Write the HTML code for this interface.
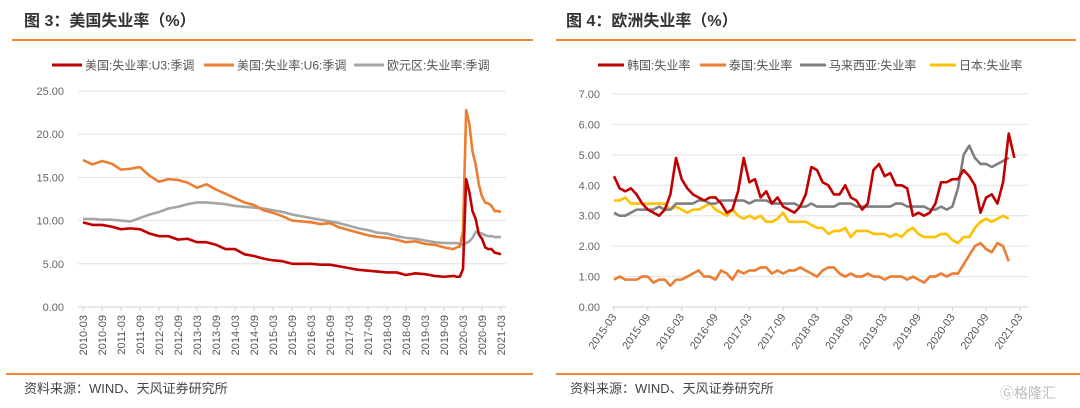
<!DOCTYPE html>
<html><head><meta charset="utf-8">
<style>
body{margin:0;width:1080px;height:408px;background:#fff;overflow:hidden;font-family:"Liberation Sans","Noto Sans CJK SC",sans-serif;}
svg{position:absolute;left:0;top:0}
</style></head>
<body>
<svg id="c" width="1080" height="408">
<text x="24" y="26" font-size="16" font-weight="bold" fill="#333">图 3：美国失业率（%）</text>
<text x="566" y="26" font-size="16" font-weight="bold" fill="#333">图 4：欧洲失业率（%）</text>
<rect x="12" y="39" width="521" height="2" fill="#F0883A"/>
<rect x="556" y="39" width="520" height="2" fill="#F0883A"/>
<rect x="6" y="373" width="527" height="2" fill="#F0883A"/>
<rect x="556" y="373" width="524" height="2" fill="#F0883A"/>
<text x="24" y="393" font-size="13" fill="#444">资料来源：WIND、天风证券研究所</text>
<text x="570" y="393" font-size="13" fill="#444">资料来源：WIND、天风证券研究所</text>
<text x="1000" y="398" font-size="14" fill="#bbb">Ⓖ格隆汇</text>
</svg>
<script>
// Left chart data (month index from 2010-03)
const leftMonths=[0,3,6,9,12,15,18,21,24,27,30,33,36,39,42,45,48,51,54,57,60,63,66,69,72,75,78,81,84,87,90,93,96,99,102,105,108,111,114,117,118,119,120,121,122,123,124,125,126,127,128,129,130,131,132];
const u3=[9.8,9.5,9.5,9.3,9.0,9.1,9.0,8.5,8.2,8.2,7.8,7.9,7.5,7.5,7.2,6.7,6.7,6.1,5.9,5.6,5.4,5.3,5.0,5.0,5.0,4.9,4.9,4.7,4.5,4.3,4.2,4.1,4.0,4.0,3.7,3.9,3.8,3.6,3.5,3.6,3.5,3.5,4.4,14.8,13.3,11.1,10.2,8.4,7.9,6.9,6.7,6.7,6.3,6.2,6.1];
const u6=[17.0,16.5,16.9,16.6,15.9,16.0,16.2,15.2,14.5,14.8,14.7,14.4,13.8,14.2,13.6,13.1,12.6,12.1,11.8,11.2,10.9,10.5,10.0,9.9,9.8,9.6,9.7,9.2,8.9,8.6,8.3,8.1,8.0,7.8,7.5,7.6,7.3,7.2,6.9,6.7,6.9,7.0,8.7,22.8,21.2,18.0,16.5,14.2,12.8,12.1,12.0,11.7,11.1,11.1,11.0];
const euro=[10.2,10.2,10.1,10.1,10.0,9.9,10.3,10.7,11.0,11.4,11.6,11.9,12.1,12.1,12.0,11.9,11.7,11.6,11.5,11.4,11.2,11.0,10.7,10.5,10.3,10.1,9.9,9.7,9.4,9.1,8.9,8.6,8.5,8.2,8.0,7.9,7.7,7.5,7.4,7.4,7.4,7.3,7.2,7.4,7.6,8.0,8.7,8.6,8.5,8.3,8.2,8.2,8.1,8.1,8.1];
const leftTicks=["0.00","5.00","10.00","15.00","20.00","25.00"];
const leftXLabels=["2010-03","2010-09","2011-03","2011-09","2012-03","2012-09","2013-03","2013-09","2014-03","2014-09","2015-03","2015-09","2016-03","2016-09","2017-03","2017-09","2018-03","2018-09","2019-03","2019-09","2020-03","2020-09","2021-03"];
// Right chart data (monthly from 2015-03)
const korea=[4.3,3.9,3.8,3.9,3.7,3.4,3.2,3.1,3.0,3.2, 3.7,4.9,4.2,3.9,3.7,3.6,3.5,3.6,3.6,3.4,3.1,3.2, 3.8,4.9,4.1,4.2,3.6,3.8,3.4,3.6,3.3,3.2,3.1,3.3, 3.7,4.6,4.5,4.1,4.0,3.7,3.7,4.0,3.6,3.5,3.2,3.4, 4.5,4.7,4.3,4.4,4.0,4.0,3.9,3.0,3.1,3.0,3.1,3.4, 4.1,4.1,4.2,4.2,4.5,4.3,4.0,3.1,3.6,3.7,3.4,4.1, 5.7,4.9];
const thailand=[0.9,1.0,0.9,0.9,0.9,1.0,1.0,0.8,0.9,0.9, 0.7,0.9,0.9,1.0,1.1,1.2,1.0,1.0,0.9,1.2,1.1,0.9, 1.2,1.1,1.2,1.2,1.3,1.3,1.1,1.2,1.1,1.2,1.2,1.3, 1.2,1.1,1.0,1.2,1.3,1.3,1.1,1.0,1.1,1.0,1.0,1.1, 1.0,1.0,0.9,1.0,1.0,1.0,0.9,1.0,0.9,0.8,1.0,1.0, 1.1,1.0,1.1,1.1,1.4,1.7,2.0,2.1,1.9,1.8,2.1,2.0, 1.5];
const malaysia=[3.1,3.0,3.0,3.1,3.2,3.2,3.2,3.2,3.3,3.2, 3.2,3.4,3.4,3.4,3.4,3.5,3.5,3.4,3.4,3.5,3.5,3.5, 3.5,3.5,3.4,3.5,3.5,3.5,3.4,3.4,3.4,3.4,3.4,3.3, 3.3,3.4,3.3,3.3,3.3,3.3,3.4,3.4,3.4,3.3,3.3,3.3, 3.3,3.3,3.3,3.3,3.4,3.4,3.3,3.3,3.3,3.3,3.2,3.2, 3.3,3.2,3.3,3.9,5.0,5.3,4.9,4.7,4.7,4.6,4.7,4.8, 4.9];
const japan=[3.5,3.5,3.6,3.4,3.4,3.4,3.4,3.4,3.4,3.4, 3.2,3.3,3.2,3.1,3.2,3.2,3.3,3.4,3.2,3.1,3.0,3.2, 3.0,2.9,3.0,2.9,3.0,2.8,2.8,2.9,3.1,2.8,2.8,2.8, 2.8,2.7,2.6,2.6,2.4,2.5,2.5,2.6,2.3,2.5,2.5,2.5, 2.4,2.4,2.4,2.3,2.4,2.3,2.5,2.6,2.4,2.3,2.3,2.3, 2.4,2.4,2.2,2.1,2.3,2.3,2.6,2.8,2.9,2.8,2.9,3.0, 2.9];
const rightTicks=["0.00","1.00","2.00","3.00","4.00","5.00","6.00","7.00"];
const rightXLabels=["2015-03","2015-09","2016-03","2016-09","2017-03","2017-09","2018-03","2018-09","2019-03","2019-09","2020-03","2020-09","2021-03"];

const NS="http://www.w3.org/2000/svg";
const svg=document.getElementById('c');
function mk(tag,attrs,parent){const e=document.createElementNS(NS,tag);for(const k in attrs)e.setAttribute(k,attrs[k]);(parent||svg).appendChild(e);return e;}

// Left axes
const L={x0:78,x1:506,y0:307,y1:91,max:25,months:132};
const lx=m=>L.x0+5+m*(L.x1-L.x0-10)/L.months;
const ly=v=>L.y0-v*(L.y0-L.y1)/L.max;
leftTicks.forEach((t,i)=>{
  const v=parseFloat(t);
  const g=mk('line',{x1:L.x0,x2:L.x1,y1:ly(v),y2:ly(v),stroke:i==0?'#d0d0d0':'#e3e3e3','stroke-width':1});
  
  
  const tx=mk('text',{x:L.x0-14,y:ly(v)+4,'font-size':11,fill:'#666','text-anchor':'end'});
  tx.textContent=t;
  
  
});
leftXLabels.forEach((t,i)=>{
  const x=lx(i*6);
  const tk=mk('line',{x1:x,x2:x,y1:L.y0,y2:L.y0+4,stroke:'#d0d0d0'});
  
  
  const tx=mk('text',{x:0,y:0,'font-size':11,fill:'#555','text-anchor':'end',transform:`translate(${x+4},${L.y0+8}) rotate(-90)`});
  tx.textContent=t;
  
  
});
function lineL(vals,color,name){
  const p=mk('polyline',{points:vals.map((v,i)=>lx(leftMonths[i])+','+ly(v)).join(' '),fill:'none',stroke:color,'stroke-width':2.6,'stroke-linejoin':'round'});
  
  
}
lineL(euro,'#A5A5A5','series-eurozone-unemployment');
lineL(u6,'#ED7D31','series-us-u6');
lineL(u3,'#C00000','series-us-u3');

// Right axes
const R={x0:612,x1:1028,y0:307,y1:94,max:7,months:72};
const rx=m=>R.x0+2+m*(R.x1-R.x0-10)/R.months;
const ry=v=>R.y0-v*(R.y0-R.y1)/R.max;
rightTicks.forEach((t,i)=>{
  const v=parseFloat(t);
  const g=mk('line',{x1:R.x0,x2:R.x1,y1:ry(v),y2:ry(v),stroke:i==0?'#d0d0d0':'#e3e3e3','stroke-width':1});
  
  
  const tx=mk('text',{x:R.x0-12,y:ry(v)+4,'font-size':11,fill:'#666','text-anchor':'end'});
  tx.textContent=t;
  
  
});
rightXLabels.forEach((t,i)=>{
  const x=rx(i*6);
  const tk=mk('line',{x1:x,x2:x,y1:R.y0,y2:R.y0+4,stroke:'#d0d0d0'});
  
  
  const tx=mk('text',{x:0,y:0,'font-size':11,fill:'#555','text-anchor':'end',transform:`translate(${x+3},${R.y0+10}) rotate(-55)`});
  tx.textContent=t;
  
  
});
function lineR(vals,color,name){
  const p=mk('polyline',{points:vals.map((v,i)=>rx(i)+','+ry(v)).join(' '),fill:'none',stroke:color,'stroke-width':2.6,'stroke-linejoin':'round'});
  
  
}
lineR(thailand,'#ED7D31','series-thailand');
lineR(japan,'#FFC000','series-japan');
lineR(malaysia,'#7F7F7F','series-malaysia');
lineR(korea,'#C00000','series-korea');

// Legends
function legend(x,y,color,label,w){
  const l=mk('line',{x1:x,x2:x+w,y1:y,y2:y,stroke:color,'stroke-width':3});
  
  
  const t=mk('text',{x:x+w+3,y:y+4.5,'font-size':12,fill:'#555'});
  t.textContent=label;
  
  
}
legend(52,65,'#C00000','美国:失业率:U3:季调',30);
legend(204,65,'#ED7D31','美国:失业率:U6:季调',30);
legend(354,65,'#A5A5A5','欧元区:失业率:季调',30);
legend(598,65,'#C00000','韩国:失业率',26);
legend(700,65,'#ED7D31','泰国:失业率',26);
legend(800,65,'#7F7F7F','马来西亚:失业率',26);
legend(930,65,'#FFC000','日本:失业率',26);
</script>
</body></html>
